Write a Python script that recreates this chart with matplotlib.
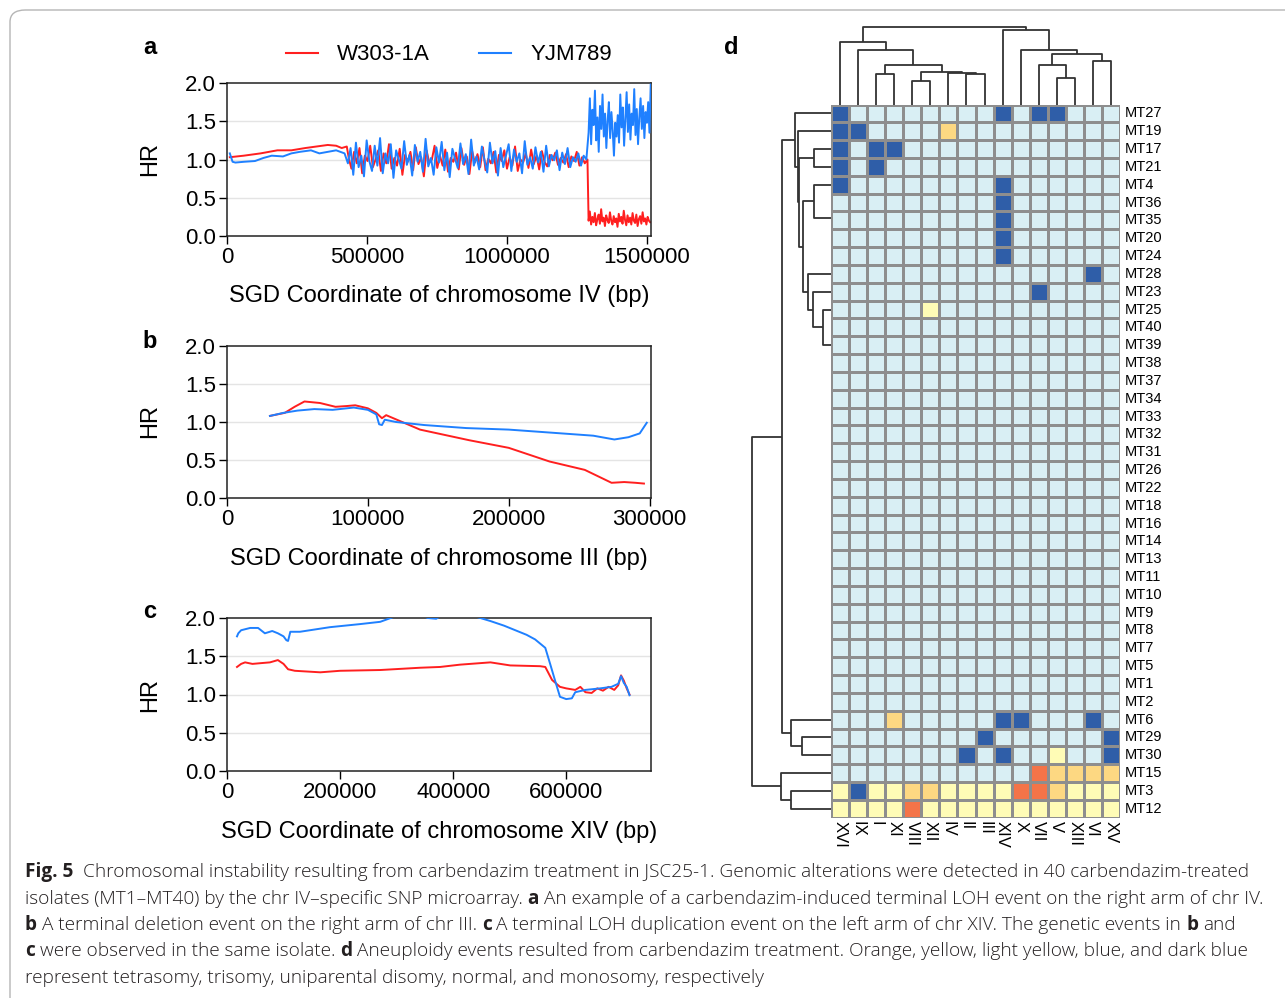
import numpy as np
import matplotlib
matplotlib.use('Agg')
import matplotlib.pyplot as plt
from matplotlib.colors import ListedColormap, BoundaryNorm
from matplotlib.patches import FancyBboxPatch
from matplotlib.lines import Line2D

# ---------------- data: panel a (chr IV) ----------------
a_red_x1 = [10000, 60000, 120000, 180000, 230000, 280000, 320000, 360000, 390000, 410000, 428000]
a_red_y1 = [1.03, 1.05, 1.08, 1.12, 1.12, 1.15, 1.17, 1.19, 1.18, 1.15, 1.17]
a_blue_x1 = [10000, 20000, 30000, 60000, 100000, 130000, 160000, 200000, 230000, 260000, 300000, 330000, 360000, 390000, 420000]
a_blue_y1 = [1.08, 0.97, 0.96, 0.97, 0.98, 1.02, 1.05, 1.04, 1.08, 1.10, 1.12, 1.08, 1.10, 1.12, 1.08]
a_red_mid = [1.02, 0.88, 1.10, 0.95, 1.15, 0.82, 1.05, 0.98, 1.18, 0.90, 1.00, 1.12, 0.85, 1.08, 0.95, 1.20, 0.88, 1.02,
             0.92, 1.14, 0.80, 1.06, 0.97, 1.10, 0.86, 1.16, 0.94, 1.03, 0.78, 1.12, 0.96, 1.00, 1.18, 0.89, 1.05, 0.92,
             1.13, 0.84, 1.02, 0.97, 1.09, 0.87, 1.15, 0.93, 1.04, 0.81, 1.11, 0.96, 1.07, 0.90, 1.16, 0.86, 1.01, 0.95,
             1.10, 0.83, 1.06, 0.98, 1.12, 0.88, 1.03, 0.92, 1.17, 0.85, 1.00, 0.96, 1.08, 0.89, 1.13, 0.94, 1.05, 0.87,
             1.11, 0.97, 0.91, 1.06, 0.99, 1.09, 0.93, 1.02, 0.96, 1.07, 0.90, 1.04, 0.98, 1.10, 0.92, 1.03, 0.95, 1.00]
a_blue_mid = [0.95, 1.15, 0.80, 1.22, 0.90, 1.05, 0.78, 1.25, 0.98, 0.85, 1.18, 0.92, 1.28, 0.82, 1.08, 0.95, 1.20, 0.76,
              1.12, 1.00, 0.88, 1.24, 0.93, 1.06, 0.79, 1.19, 0.97, 1.10, 0.84, 1.27, 0.91, 1.02, 0.80, 1.16, 0.96, 1.23,
              0.86, 1.09, 0.77, 1.14, 1.01, 0.89, 1.21, 0.94, 1.07, 0.81, 1.26, 0.92, 1.04, 0.87, 1.17, 0.99, 0.83, 1.22,
              0.95, 1.11, 0.79, 1.15, 0.90, 1.05, 1.20, 0.85, 1.13, 0.97, 1.08, 0.82, 1.24, 0.93, 1.03, 0.88, 1.16, 0.96,
              1.10, 0.84, 1.18, 0.91, 1.06, 0.99, 1.12, 0.86, 1.09, 0.94, 1.15, 0.90, 1.03, 0.97, 1.08, 0.92, 1.05, 1.00]
a_red_right = [0.20, 0.32, 0.15, 0.25, 0.18, 0.30, 0.14, 0.22, 0.28, 0.16, 0.35, 0.19, 0.24, 0.13, 0.27, 0.21, 0.17,
               0.31, 0.20, 0.15, 0.26, 0.18, 0.23, 0.12, 0.29, 0.19, 0.25, 0.16, 0.33, 0.21, 0.14, 0.27, 0.18, 0.24,
               0.15, 0.30, 0.20, 0.17, 0.28, 0.13, 0.22, 0.26, 0.16, 0.31, 0.19, 0.23, 0.15, 0.25, 0.20, 0.18]
a_blue_right = [1.35, 1.80, 1.20, 1.65, 1.45, 1.90, 1.25, 1.55, 1.10, 1.70, 1.40, 1.85, 1.30, 1.60, 1.15, 1.50, 1.75,
                1.28, 1.62, 1.38, 1.05, 1.48, 1.30, 1.58, 1.22, 1.85, 1.42, 1.68, 1.18, 1.52, 1.88, 1.36, 1.72, 1.26,
                1.60, 1.45, 1.92, 1.32, 1.66, 1.20, 1.55, 1.80, 1.40, 1.70, 1.28, 1.62, 1.48, 1.75, 1.35, 1.98]
a_mid_range = (435000, 1288000)
a_right_range = (1292000, 1512000)

# ---------------- data: panel b (chr III) ----------------
b_red_x = [30500, 41000, 48000, 55000, 66000, 77000, 85000, 91000, 100000, 106000, 110000, 113000, 137000, 172000,
           200000, 229000, 254000, 273000, 282000, 290000, 296000]
b_red_y = [1.08, 1.12, 1.20, 1.27, 1.25, 1.20, 1.21, 1.22, 1.18, 1.12, 1.05, 1.09, 0.90, 0.76, 0.66, 0.48, 0.37,
           0.20, 0.21, 0.20, 0.19]
b_blue_x = [30500, 40000, 50000, 62000, 75000, 90000, 100000, 106000, 108000, 110000, 112000, 120000, 140000, 170000,
            200000, 230000, 260000, 275000, 285000, 293000, 298000]
b_blue_y = [1.08, 1.12, 1.15, 1.17, 1.16, 1.19, 1.16, 1.10, 0.97, 0.96, 1.03, 1.00, 0.96, 0.92, 0.90, 0.86, 0.82,
            0.77, 0.80, 0.85, 0.99]

# ---------------- data: panel c (chr XIV) ----------------
c_red_x = [17700, 25000, 32000, 45000, 60000, 76000, 90000, 100000, 108000, 120000, 165000, 200000, 271000, 342000,
           377000, 412000, 466000, 501000, 554000, 563000, 575000, 589000, 600000, 616000, 625000, 634000, 645000,
           655000, 665000, 675000, 685000, 692000, 697000, 702000, 707000, 712000]
c_red_y = [1.36, 1.40, 1.42, 1.40, 1.41, 1.42, 1.45, 1.40, 1.33, 1.31, 1.29, 1.31, 1.32, 1.35, 1.36, 1.39, 1.42, 1.38,
           1.37, 1.36, 1.19, 1.10, 1.08, 1.06, 1.10, 1.03, 1.02, 1.08, 1.05, 1.10, 1.06, 1.12, 1.25, 1.18, 1.08, 1.00]
c_blue_x = [17700, 20000, 25000, 41000, 55000, 67000, 80000, 90000, 100000, 105000, 108000, 112000, 129000, 182000,
            235000, 271000, 297000, 320000, 340000, 355000, 370000, 390000, 430000, 466000, 490000, 510000, 530000,
            545000, 563000, 572000, 580000, 589000, 600000, 610000, 616000, 634000, 660000, 680000, 692000, 697000,
            702000, 707000, 712000]
c_blue_y = [1.76, 1.80, 1.84, 1.87, 1.87, 1.80, 1.83, 1.80, 1.76, 1.71, 1.70, 1.82, 1.82, 1.88, 1.92, 1.95, 2.02,
            2.10, 2.05, 2.00, 1.99, 2.08, 2.04, 1.96, 1.90, 1.84, 1.78, 1.72, 1.61, 1.39, 1.19, 0.97, 0.94, 0.95,
            1.03, 1.06, 1.08, 1.10, 1.14, 1.24, 1.15, 1.10, 0.99]

# ---------------- data: panel d (heatmap) ----------------
col_labels = ['XVI', 'IX', 'I', 'XI', 'VIII', 'XII', 'IV', 'II', 'III', 'XIV', 'X', 'VII', 'V', 'XIII', 'VI', 'XV']
row_labels = ['MT27', 'MT19', 'MT17', 'MT21', 'MT4', 'MT36', 'MT35', 'MT20', 'MT24', 'MT28', 'MT23', 'MT25',
              'MT40', 'MT39', 'MT38', 'MT37', 'MT34', 'MT33', 'MT32', 'MT31', 'MT26', 'MT22', 'MT18', 'MT16',
              'MT14', 'MT13', 'MT11', 'MT10', 'MT9', 'MT8', 'MT7', 'MT5', 'MT1', 'MT2', 'MT6', 'MT29', 'MT30',
              'MT15', 'MT3', 'MT12']
# 0 monosomy, 1 normal, 2 uniparental disomy, 3 trisomy, 4 tetrasomy
NORMAL = '1111111111111111'
row_states = ['0111111110100111', '0011113111111111', '0100111111111111', '0101111111111111',
              '0111111110111111', '1111111110111111', '1111111110111111', '1111111110111111',
              '1111111110111111', '1111111111111101', '1111111111101111', '1111121111111111'] + \
             [NORMAL] * 22 + \
             ['1113111110011101', '1111111101111110', '1111111010112110', '1111111111143333',
              '2022332222443222', '2222422222222222']
state_colors = ['#2f5ea8', '#d9eff4', '#fffcb6', '#fdd882', '#f47448']

# dendrograms: (left, right, height) ; leaves = index in display order
def chain(idx):
    node = idx[-1]
    for i in reversed(idx[:-1]):
        node = (i, node, 0.0)
    return node

row_tree = (((0, (1, ((2, 3, 16.7), ((4, chain([5, 6, 7, 8]), 16.7),
                                       (9, (10, (11, chain(list(range(12, 34))), 8.3), 18.3), 22.7),
                                       27.7), 32.5), 33.0), 36.0),
             (34, (35, 36, 29.3), 40.0), 48.7),
            (37, (38, 39, 40.3), 50.3), 78.7)
col_tree = ((0, (1, ((2, 3, 30.7), ((4, 5, 24.0), (6, (7, 8, 30.7), 32.0), 33.0), 40.0), 55.0), 62.3),
            (9, (10, ((11, (12, 13, 26.7), 40.0), (14, 15, 44.0), 50.7), 55.0), 74.7), 77.3)

# ---------------- figure ----------------
W, H = 1285, 998
fig = plt.figure(figsize=(W / 100, H / 100), dpi=100)
FONT = 'Liberation Sans'
CAPFONT = 'Open Sans'
CAPWEIGHT = 'light'
RED = '#ff1f1f'
BLUE = '#1f80ff'


def rect(x0, y0, x1, y1):
    return [x0 / W, 1 - y1 / H, (x1 - x0) / W, (y1 - y0) / H]


def fx(x):
    return x / W


def fy(y):
    return 1 - y / H


# outer rounded frame
frame = FancyBboxPatch((fx(10), fy(1040)), fx(1320) - fx(10), fy(10) - fy(1040),
                       boxstyle='round,pad=0,rounding_size=0.012', transform=fig.transFigure,
                       fc='none', ec='#b5b5b5', lw=1.0)
fig.patches.append(frame)


def line_panel(box, xr, yr, xb, yb, xlim, xticks, xlabel, xl_y, hr_y, letter_y, letter):
    ax = fig.add_axes(rect(*box))
    for v in (0.5, 1.0, 1.5):
        ax.axhline(v, color='#e4e4e4', lw=1.0, zorder=0)
    ax.plot(xr, yr, color=RED, lw=1.4, zorder=2)
    ax.plot(xb, yb, color=BLUE, lw=1.4, zorder=3)
    ax.set_xlim(*xlim)
    ax.set_ylim(0, 2.0)
    ax.set_xticks(xticks)
    ax.set_xticklabels([str(t) for t in xticks])
    ax.set_yticks([0, 0.5, 1.0, 1.5, 2.0])
    ax.set_yticklabels(['0.0', '0.5', '1.0', '1.5', '2.0'])
    ax.tick_params(labelsize=16, length=6, width=1.0, pad=2, direction='out')
    for lab in ax.get_xticklabels() + ax.get_yticklabels():
        lab.set_fontfamily(FONT)
    for s in ax.spines.values():
        s.set_linewidth(1.1)
        s.set_color('#222222')
    fig.text(fx(439), fy(xl_y), xlabel, fontsize=17, family=FONT, ha='center', va='center')
    fig.text(fx(150), fy(hr_y), 'HR', fontsize=17, family=FONT, rotation=90, ha='center', va='center')
    fig.text(fx(150), fy(letter_y), letter, fontsize=17, family=FONT, fontweight='bold', ha='center', va='center')
    return ax


a_x = list(a_red_x1) + list(np.linspace(a_mid_range[0], a_mid_range[1], len(a_red_mid))) + \
    list(np.linspace(a_right_range[0], a_right_range[1], len(a_red_right)))
a_y = list(a_red_y1) + a_red_mid + a_red_right
ab_x = list(a_blue_x1) + list(np.linspace(a_mid_range[0] - 3000, a_mid_range[1] - 4000, len(a_blue_mid))) + \
    list(np.linspace(a_right_range[0], a_right_range[1] + 2000, len(a_blue_right)))
ab_y = list(a_blue_y1) + a_blue_mid + a_blue_right

line_panel((227, 83, 651, 236), a_x, a_y, ab_x, ab_y, (0, 1515000), [0, 500000, 1000000, 1500000],
           'SGD Coordinate of chromosome IV (bp)', 296, 159, 48, 'a')
line_panel((227, 346, 651, 498), b_red_x, b_red_y, b_blue_x, b_blue_y, (0, 301000), [0, 100000, 200000, 300000],
           'SGD Coordinate of chromosome III (bp)', 559, 421, 341, 'b')
line_panel((227, 618, 651, 771), c_red_x, c_red_y, c_blue_x, c_blue_y, (0, 750000), [0, 200000, 400000, 600000],
           'SGD Coordinate of chromosome XIV (bp)', 832, 695, 612, 'c')

# legend
handles = [Line2D([], [], color=RED, lw=1.5), Line2D([], [], color=BLUE, lw=1.5)]
leg = fig.legend(handles, ['W303-1A', 'YJM789'], loc='center', bbox_to_anchor=(fx(449), fy(55)), ncol=2,
                 frameon=False, handlelength=1.45, handletextpad=0.85, columnspacing=2.2,
                 prop={'family': FONT, 'size': 16})

# ---------------- heatmap ----------------
HX0, HY0, HX1, HY1 = 831, 104.5, 1120, 817.7
mat = np.array([[int(c) for c in r] for r in row_states])
hax = fig.add_axes(rect(HX0, HY0, HX1, HY1))
cmap = ListedColormap(state_colors)
norm = BoundaryNorm([-0.5, 0.5, 1.5, 2.5, 3.5, 4.5], cmap.N)
hax.pcolormesh(np.arange(len(col_labels) + 1), np.arange(len(row_labels) + 1), mat, cmap=cmap, norm=norm,
               edgecolors='#8e8e8e', linewidth=1.0)
hax.set_xlim(0, len(col_labels))
hax.set_ylim(len(row_labels), 0)
hax.axis('off')
for i, lab in enumerate(row_labels):
    hax.text(len(col_labels) + 0.28, i + 0.5, lab, fontsize=10.5, family=FONT, ha='left', va='center')
for j, lab in enumerate(col_labels):
    hax.text(j + 0.5, len(row_labels) + 0.2, lab, fontsize=12, family=FONT, ha='center', va='top', rotation=-90)


def draw_tree(ax, node, orient):
    if isinstance(node, int):
        return node + 0.5, 0.0
    a, b, h = node
    pa, ha = draw_tree(ax, a, orient)
    pb, hb = draw_tree(ax, b, orient)
    if h > 0:
        ps = [pa, pa, pb, pb]
        hs = [ha, h, h, hb]
        if orient == 'top':
            ax.plot(ps, hs, color='#333333', lw=1.3, clip_on=False, solid_capstyle='butt')
        else:
            ax.plot(hs, ps, color='#333333', lw=1.3, clip_on=False, solid_capstyle='butt')
    return (pa + pb) / 2, h


tax = fig.add_axes(rect(HX0, 18, HX1, HY0))
tax.set_xlim(0, len(col_labels))
tax.set_ylim(0, HY0 - 18)
tax.axis('off')
draw_tree(tax, col_tree, 'top')

lax = fig.add_axes(rect(745, HY0, HX0, HY1))
lax.set_xlim(HX0 - 745, 0)
lax.set_ylim(len(row_labels), 0)
lax.axis('off')
draw_tree(lax, row_tree, 'left')

fig.text(fx(731), fy(48), 'd', fontsize=17, family=FONT, fontweight='bold', ha='center', va='center')

# ---------------- caption ----------------
caption = [
    [("Fig. 5", True), ("  Chromosomal instability resulting from carbendazim treatment in JSC25-1. Genomic alterations were detected in 40 carbendazim-treated", False)],
    [("isolates (MT1\u2013MT40) by the chr IV\u2013specific SNP microarray. ", False), ("a", True),
     (" An example of a carbendazim-induced terminal LOH event on the right arm of chr IV.", False)],
    [("b", True), (" A terminal deletion event on the right arm of chr III. ", False), ("c", True),
     (" A terminal LOH duplication event on the left arm of chr XIV. The genetic events in ", False), ("b", True),
     (" and", False)],
    [("c", True), (" were observed in the same isolate. ", False), ("d", True),
     (" Aneuploidy events resulted from carbendazim treatment. Orange, yellow, light yellow, blue, and dark blue", False)],
    [("represent tetrasomy, trisomy, uniparental disomy, normal, and monosomy, respectively", False)],
]
renderer = fig.canvas.get_renderer()


def text_w(s, size, bold):
    t = fig.text(0, 0, s, fontsize=size, family=CAPFONT, fontweight='bold' if bold else CAPWEIGHT)
    w = t.get_window_extent(renderer).width
    t.remove()
    return w


def draw_caption_line(segs, x0, y, size, draw=True):
    sw = text_w('a a', size, False) - text_w('aa', size, False)
    x = x0
    for s, bold in segs:
        ls = len(s) - len(s.lstrip(' '))
        ts = len(s) - len(s.rstrip(' '))
        core = s.strip(' ')
        x += ls * sw
        if draw:
            fig.text(fx(x), fy(y), core, fontsize=size, family=CAPFONT, fontweight='bold' if bold else CAPWEIGHT,
                     ha='left', va='baseline', color='#231f20')
        x += text_w(core, size, bold) + ts * sw
    return x - x0


base = 12.0
w1 = draw_caption_line(caption[0], 25, 0, base, draw=False)
cap_size = base * (1228 / w1)
for k, segs in enumerate(caption):
    draw_caption_line(segs, 25, 877 + 26.5 * k, cap_size)

fig.savefig('out.png', dpi=100)
